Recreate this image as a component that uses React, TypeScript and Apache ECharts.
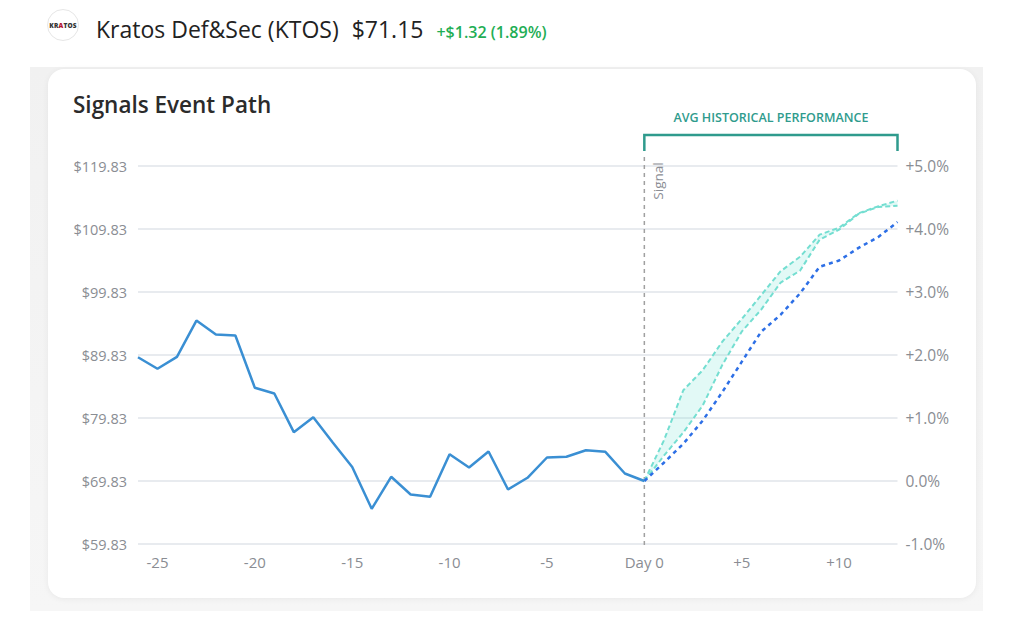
import React, { useEffect, useRef } from "react";
import * as echarts from "echarts";

const DAYS = [-26, -25, -24, -23, -22, -21, -20, -19, -18, -17, -16, -15, -14, -13, -12, -11, -10, -9, -8, -7, -6, -5, -4, -3, -2, -1, 0, 1, 2, 3, 4, 5, 6, 7, 8, 9, 10, 11, 12, 13];
// Closing prices, day -26 .. day 0
const PRICE = [89.48, 87.64, 89.54, 95.3, 93.08, 92.92, 84.62, 83.72, 77.58, 79.96, 75.94, 72.05, 65.42, 70.5, 67.69, 67.32, 74.08, 71.97, 74.51, 68.48, 70.34, 73.56, 73.67, 74.72, 74.46, 71.02, 69.83];
// Forecast (% vs day 0), day 0 .. day 13
const FC_UPPER = [0, 0.64, 1.44, 1.76, 2.21, 2.57, 2.95, 3.33, 3.56, 3.91, 4.02, 4.25, 4.36, 4.45];
const FC_LOWER = [0, 0.4, 0.77, 1.2, 1.84, 2.37, 2.72, 3.15, 3.34, 3.83, 3.99, 4.24, 4.35, 4.37];
const FC_AVG = [0, 0.29, 0.59, 0.96, 1.41, 1.89, 2.37, 2.64, 2.98, 3.4, 3.5, 3.7, 3.87, 4.11];
const BASE = 59.83;
const LEFT_TICKS_STEP = 10;

const FONT = '"Open Sans", sans-serif';

export default function App() {
  const ref = useRef<HTMLDivElement>(null);

  useEffect(() => {
    if (!ref.current) return;
    const chart = echarts.init(ref.current, undefined, { renderer: "svg" });
    const zeroIdx = DAYS.indexOf(0);
    const pre = DAYS.filter((d) => d < 0).map(() => "-");
    const post = DAYS.filter((d) => d > 0).map(() => "-");
    const priceData = [...PRICE.map((p) => +(p - BASE).toFixed(2)), ...post];
    const lowerData = [...pre, ...FC_LOWER];
    const diffData = [...pre, ...FC_UPPER.map((u, i) => +(u - FC_LOWER[i]).toFixed(3))];
    const upperData = [...pre, ...FC_UPPER];
    const avgData = [...pre, ...FC_AVG];
    const labelStyle = { color: "#8a8d93", fontSize: 14.5, fontFamily: FONT };

    chart.setOption({
      animation: false,
      title: {
        text: "Signals Event Path",
        left: 68,
        top: 88,
        textStyle: { fontFamily: FONT, fontSize: 22.5, fontWeight: 600, color: "#2b2b2b" },
      },
      grid: { left: 138, right: 126.5, top: 166, bottom: 94 },
      xAxis: {
        type: "category",
        data: DAYS.map(String),
        boundaryGap: false,
        axisLine: { show: false },
        axisTick: { show: false },
        splitLine: { show: false },
        axisLabel: {
          ...labelStyle,
          fontSize: 15,
          margin: 10,
          interval: (i: number, v: string) => Number(v) % 5 === 0,
          formatter: (v: string) => {
            const n = Number(v);
            if (n === 0) return "Day 0";
            return n > 0 ? "+" + n : String(n);
          },
        },
      },
      yAxis: [
        {
          type: "value",
          min: 0,
          max: 60,
          interval: LEFT_TICKS_STEP,
          axisLine: { show: false },
          axisTick: { show: false },
          splitLine: { lineStyle: { color: "#e1e4ea", width: 1.5 } },
          axisLabel: { ...labelStyle, margin: 11, formatter: (v: number) => "$" + (v + BASE).toFixed(2) },
        },
        {
          type: "value",
          min: -1,
          max: 5,
          interval: 1,
          position: "right",
          axisLine: { show: false },
          axisTick: { show: false },
          splitLine: { show: false },
          axisLabel: {
            ...labelStyle,
            fontSize: 15.5,
            margin: 8,
            formatter: (v: number) => (v > 0 ? "+" : "") + v.toFixed(1) + "%",
          },
        },
      ],
      series: [
        {
          name: "Price",
          type: "line",
          data: priceData,
          yAxisIndex: 0,
          symbol: "none",
          lineStyle: { color: "#3a8fd3", width: 2.5 },
          z: 5,
        },
        {
          name: "bandBase",
          type: "line",
          stack: "band",
          data: lowerData,
          yAxisIndex: 1,
          symbol: "none",
          lineStyle: { opacity: 0 },
          silent: true,
        },
        {
          name: "band",
          type: "line",
          stack: "band",
          data: diffData,
          yAxisIndex: 1,
          symbol: "none",
          lineStyle: { opacity: 0 },
          areaStyle: { color: "rgba(120,226,212,0.3)" },
          silent: true,
        },
        {
          name: "Upper",
          type: "line",
          data: upperData,
          yAxisIndex: 1,
          symbol: "none",
          lineStyle: { color: "#74ded1", width: 2, type: [5, 3] },
        },
        {
          name: "Lower",
          type: "line",
          data: lowerData,
          yAxisIndex: 1,
          symbol: "none",
          lineStyle: { color: "#74ded1", width: 2, type: [5, 3] },
        },
        {
          name: "Average",
          type: "line",
          data: avgData,
          yAxisIndex: 1,
          symbol: "none",
          lineStyle: { color: "#2d6fe6", width: 2.5, type: [4, 4] },
          z: 4,
        },
      ],
    });

    const x0 = chart.convertToPixel({ xAxisIndex: 0 }, zeroIdx) as number;
    const xEnd = chart.convertToPixel({ xAxisIndex: 0 }, DAYS.length - 1) as number;
    const yTop = chart.convertToPixel({ yAxisIndex: 1 }, 5) as number;
    const yBot = chart.convertToPixel({ yAxisIndex: 1 }, -1) as number;
    const teal = "#2f9b8d";

    chart.setOption({
      graphic: [
        {
          type: "line",
          shape: { x1: x0, y1: yTop - 9, x2: x0, y2: yBot + 2 },
          style: { stroke: "#a0a0a0", lineWidth: 1.5, lineDash: [4, 4] },
          z: 1,
        },
        {
          type: "text",
          x: x0 + 14,
          y: yTop + 15,
          rotation: Math.PI / 2,
          style: {
            text: "Signal",
            fill: "#8a8d93",
            font: `13.5px ${FONT}`,
            align: "center",
            verticalAlign: "middle",
          },
        },
        {
          type: "polyline",
          shape: {
            points: [
              [x0, yTop - 15],
              [x0, yTop - 31],
              [xEnd, yTop - 31],
              [xEnd, yTop - 15],
            ],
          },
          style: { stroke: teal, lineWidth: 2.5, fill: null },
        },
        {
          type: "text",
          x: (x0 + xEnd) / 2,
          y: yTop - 49,
          style: {
            text: "AVG HISTORICAL PERFORMANCE",
            fill: teal,
            font: `600 12.5px ${FONT}`,
            align: "center",
            verticalAlign: "middle",
          },
        },
      ],
    });

    return () => chart.dispose();
  }, []);

  return (
    <div
      style={{
        position: "fixed",
        left: 0,
        top: 0,
        width: 1024,
        height: 638,
        background: "#ffffff",
        fontFamily: FONT,
        overflow: "hidden",
      }}
    >
      {/* header */}
      <div
        style={{
          position: "absolute",
          left: 47,
          top: 9,
          width: 32,
          height: 32,
          borderRadius: "50%",
          border: "1px solid #e6e6e6",
          boxSizing: "border-box",
          display: "flex",
          alignItems: "center",
          justifyContent: "center",
          fontSize: 6.5,
          fontWeight: 800,
          color: "#333",
          letterSpacing: 0.2,
        }}
      >
        <span>
          KR<span style={{ color: "#b3122b" }}>A</span>TOS
        </span>
      </div>
      <div
        style={{
          position: "absolute",
          left: 96,
          top: 14,
          fontSize: 23,
          color: "#222",
          whiteSpace: "nowrap",
          lineHeight: "30px",
        }}
      >
        <span>Kratos Def&amp;Sec (KTOS)</span>
        <span style={{ marginLeft: 13, fontWeight: 500 }}>$71.15</span>
        <span style={{ marginLeft: 13, fontSize: 16, fontWeight: 600, color: "#1fae55" }}>+$1.32 (1.89%)</span>
      </div>
      {/* card shadow region */}
      <div
        style={{
          position: "absolute",
          left: 30,
          top: 67,
          width: 953,
          height: 544,
          background: "linear-gradient(180deg, #f1f1f1 0%, #f6f6f6 100%)",
        }}
      />
      <div
        style={{
          position: "absolute",
          left: 48,
          top: 69,
          width: 928,
          height: 529,
          background: "#ffffff",
          borderRadius: 16,
          boxShadow: "0 1px 6px rgba(0,0,0,0.06)",
        }}
      />
      <div ref={ref} style={{ position: "absolute", left: 0, top: 0, width: 1024, height: 638 }} />
    </div>
  );
}
